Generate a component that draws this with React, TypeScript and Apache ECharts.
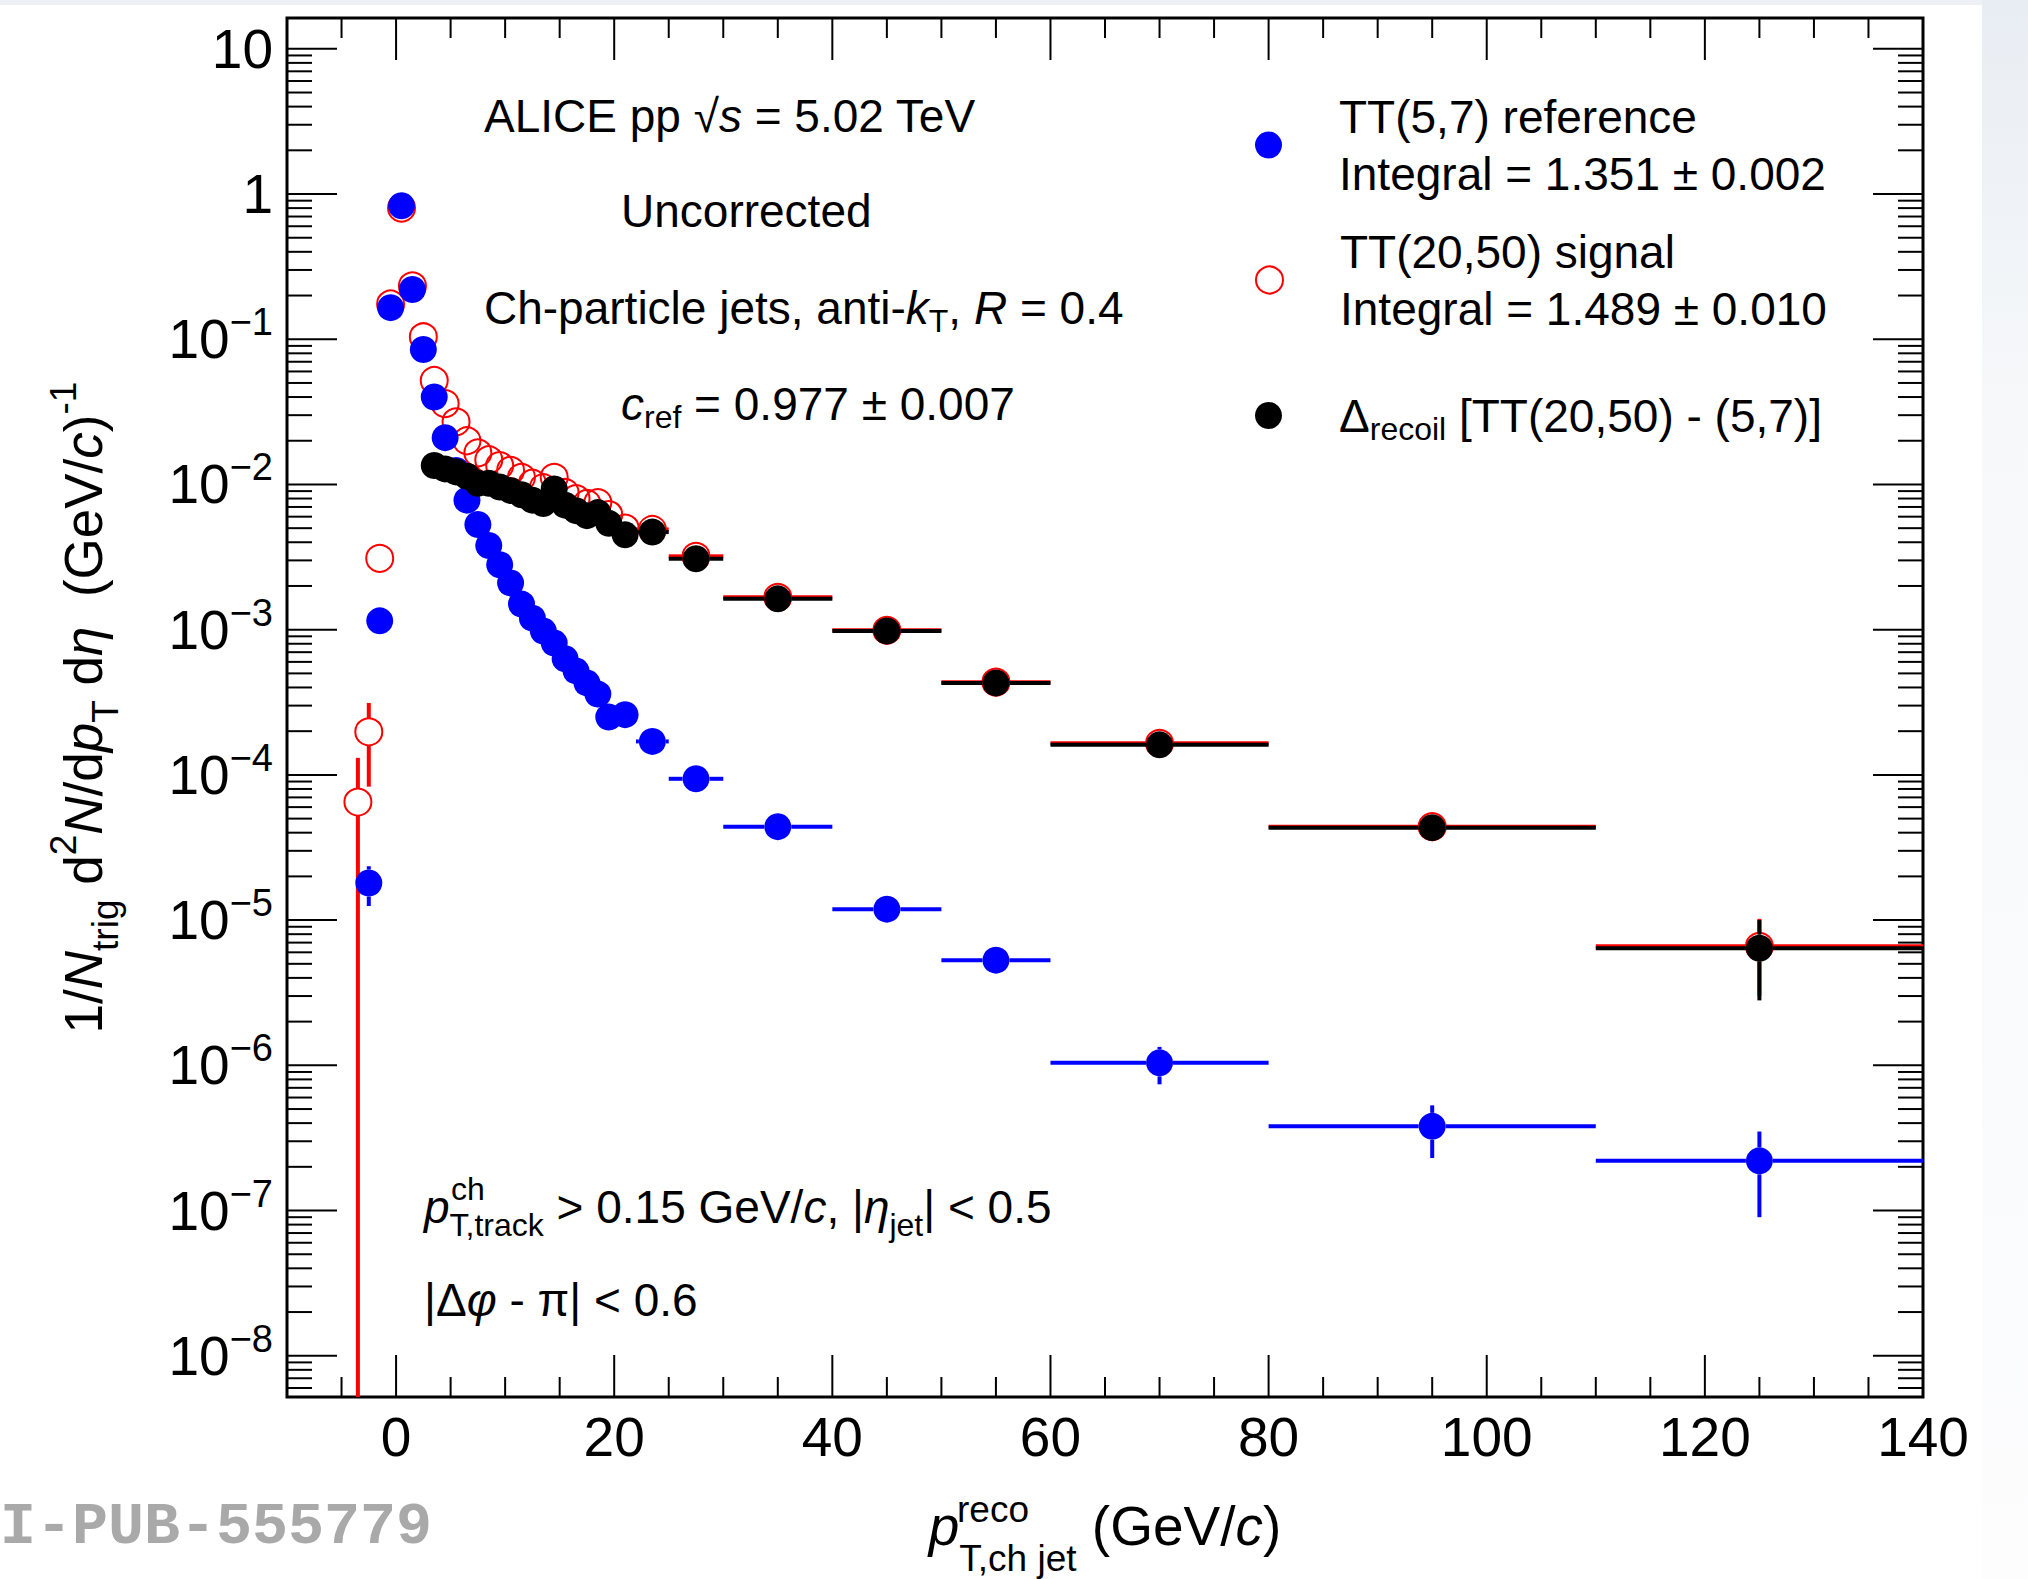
import React, { useEffect, useRef } from "react";
import * as echarts from "echarts";

// ---------------- data ----------------
const binCenters = [-3.5, -2.5, -1.5, -0.5, 0.5, 1.5, 2.5, 3.5, 4.5, 5.5, 6.5, 7.5, 8.5, 9.5, 10.5, 11.5, 12.5, 13.5, 14.5, 15.5, 16.5, 17.5, 18.5, 19.5, 21, 23.5, 27.5, 35, 45, 55, 70, 95, 125];
const binLow = [-4, -3, -2, -1, 0, 1, 2, 3, 4, 5, 6, 7, 8, 9, 10, 11, 12, 13, 14, 15, 16, 17, 18, 19, 20, 22, 25, 30, 40, 50, 60, 80, 110];
const binHigh = [-3, -2, -1, 0, 1, 2, 3, 4, 5, 6, 7, 8, 9, 10, 11, 12, 13, 14, 15, 16, 17, 18, 19, 20, 22, 25, 30, 40, 50, 60, 80, 110, 140];

// TT(5,7) reference
const refValues = [null, 1.8e-5, 1.15e-3, 0.165, 0.83, 0.22, 0.085, 0.040, 0.021, 0.0125, 0.0078, 0.0053, 0.0038, 0.0028, 0.0021, 0.0015, 0.0012, 0.00098, 0.00081, 0.00063, 0.00052, 0.00043, 0.00036, 0.00025, 0.00026, 0.00017, 9.4e-5, 4.4e-5, 1.19e-5, 5.3e-6, 1.04e-6, 3.8e-7, 2.2e-7];
const refErrors = [0, 5.5e-6, 0, 0, 0, 0, 0, 0, 0, 0, 0, 0, 0, 0, 0, 0, 0, 0, 0, 0, 0, 0, 0, 0, 0, 0, 0, 0, 6e-7, 4e-7, 3.0e-7, 1.5e-7, 1.3e-7];

// TT(20,50) signal
const sigValues = [6.5e-5, 1.98e-4, 3.1e-3, 0.175, 0.80, 0.233, 0.104, 0.052, 0.036, 0.027, 0.020, 0.0165, 0.0148, 0.0135, 0.0125, 0.0112, 0.0102, 0.0095, 0.0112, 0.0088, 0.0080, 0.0074, 0.0075, 0.0062, 0.0050, 0.0049, 0.0032, 0.00167, 0.00099, 4.35e-4, 1.65e-4, 4.4e-5, 6.6e-6];
const sigErrors = [6.6e-5, 1.15e-4, 0, 0, 0, 0, 0, 0, 0, 0, 0, 0, 0, 0, 0, 0, 0, 0, 0, 0, 0, 0, 0, 0, 0, 0, 0, 0, 0, 0, 0, 2.5e-6, 3.6e-6];

// Delta recoil
const recoilValues = [null, null, null, null, null, null, null, 0.0135, 0.0128, 0.0122, 0.0114, 0.0102, 0.0102, 0.0096, 0.0091, 0.0085, 0.0078, 0.0074, 0.0093, 0.0072, 0.0066, 0.0061, 0.0064, 0.0054, 0.0045, 0.0047, 0.00308, 0.00163, 0.00098, 4.3e-4, 1.61e-4, 4.33e-5, 6.4e-6];
const recoilErrors = [0, 0, 0, 0, 0, 0, 0, 0, 0, 0, 0, 0, 0, 0, 0, 0, 0, 0, 0, 0, 0, 0, 0, 0, 0, 0, 0, 0, 0, 0, 0, 2.6e-6, 3.6e-6];

const xTickLabels = [0, 20, 40, 60, 80, 100, 120, 140];
const yMajorTicks = [1e-8, 1e-7, 1e-6, 1e-5, 1e-4, 1e-3, 1e-2, 1e-1, 1, 10];

const seriesNames = ["TT(5,7) reference", "TT(20,50) signal", "Δrecoil [TT(20,50) - (5,7)]"];
const legendTexts = [
  "TT(5,7) reference\nIntegral = 1.351 ± 0.002",
  "TT(20,50) signal\nIntegral = 1.489 ± 0.010",
  "{n|Δ}{sub|recoil}{n| [TT(20,50) - (5,7)]}",
];

// ---------------- layout constants ----------------
const X_MIN = -10;
const X_MAX = 140;
const Y_MIN = 5.2e-9;
const Y_MAX = 16.3;
const MARKER = 27;
const FONT = '"Liberation Sans", Arial, Helvetica, sans-serif';
const BLUE = "#0000ff";
const RED = "#ff0000";
const BLACK = "#000000";

function richSet(base: number, small: number, subShift: number, supShift: number) {
  return {
    n: { fontFamily: FONT, fontSize: base, color: "#000" },
    i: { fontFamily: FONT, fontSize: base, fontStyle: "italic", color: "#000" },
    sub: { fontFamily: FONT, fontSize: small, color: "#000", padding: [subShift * 2, 0, 0, 0] },
    sub2: { fontFamily: FONT, fontSize: small, color: "#000", padding: [subShift * 2 + 10, 0, 0, 0] },
    sup: { fontFamily: FONT, fontSize: small, color: "#000", padding: [0, 0, supShift * 2, 0] },
  };
}

const annRich = richSet(46, 32, 13, 15);

function points(values: (number | null)[]) {
  const out: number[][] = [];
  binCenters.forEach((x, i) => {
    const v = values[i];
    if (v != null) out.push([x, v]);
  });
  return out;
}

function bars(values: (number | null)[], errors: number[]) {
  const out: number[][] = [];
  binCenters.forEach((x, i) => {
    const v = values[i];
    if (v == null) return;
    const e = errors[i] || 0;
    out.push([x, v, binLow[i], binHigh[i], Math.max(v - e, Y_MIN), v + e]);
  });
  return out;
}

// error bars drawn only outside the marker, as ROOT does
function errRender(color: string) {
  return (params: any, api: any) => {
    const x = api.value(0);
    const y = api.value(1);
    const xlo = api.value(2);
    const xhi = api.value(3);
    const ylo = api.value(4);
    const yhi = api.value(5);
    const c = api.coord([x, y]);
    const l = api.coord([xlo, y]);
    const r = api.coord([xhi, y]);
    const b = api.coord([x, ylo]);
    const t = api.coord([x, yhi]);
    const g = MARKER / 2;
    const style = { stroke: color, lineWidth: 4 };
    const children: any[] = [];
    if (c[0] - l[0] > g) children.push({ type: "line", shape: { x1: l[0], y1: c[1], x2: c[0] - g, y2: c[1] }, style });
    if (r[0] - c[0] > g) children.push({ type: "line", shape: { x1: c[0] + g, y1: c[1], x2: r[0], y2: c[1] }, style });
    if (b[1] - c[1] > g) children.push({ type: "line", shape: { x1: c[0], y1: c[1] + g, x2: c[0], y2: b[1] }, style });
    if (c[1] - t[1] > g) children.push({ type: "line", shape: { x1: c[0], y1: t[1], x2: c[0], y2: c[1] - g }, style });
    return { type: "group", children };
  };
}

function buildYTicks() {
  const data: number[][] = [];
  yMajorTicks.forEach((v) => data.push([X_MIN, v, 50]));
  for (let e = -9; e <= 1; e++) {
    for (let k = 2; k <= 9; k++) {
      const v = k * Math.pow(10, e);
      if (v > Y_MIN && v < Y_MAX) data.push([X_MIN, v, 25]);
    }
  }
  return data;
}

function buildXTicks() {
  const data: number[][] = [];
  xTickLabels.forEach((v) => data.push([v, Y_MIN, 42]));
  for (let v = -5; v < 140; v += 5) {
    if (v % 20 !== 0) data.push([v, Y_MIN, 20]);
  }
  return data;
}

function textEl(x: number, y: number, text: string, rich: any, size = 46, lineHeight = 60) {
  return {
    type: "text",
    x,
    y,
    silent: true,
    z: 50,
    style: {
      text,
      rich,
      fontFamily: FONT,
      fontSize: size,
      fill: "#000",
      align: "left",
      verticalAlign: "middle",
      lineHeight,
    },
  };
}

function yLabel(v: number) {
  const e = Math.log10(v);
  const r = Math.round(e);
  if (Math.abs(e - r) > 1e-6) return "";
  if (r === 1) return "10";
  if (r === 0) return "1";
  return "{b|10}{e|\u2212" + String(-r) + "}";
}

const App: React.FC = () => {
  const ref = useRef<HTMLDivElement>(null);

  useEffect(() => {
    if (!ref.current) return;
    const chart = echarts.init(ref.current, null, { renderer: "svg", width: 2028, height: 1579 });

    const legendCommon = {
      orient: "vertical",
      left: 1255,
      itemWidth: 27,
      itemHeight: 27,
      padding: 0,
      selectedMode: false,
      textStyle: {
        fontFamily: FONT,
        fontSize: 46,
        color: "#000",
        lineHeight: 57,
        padding: [0, 0, 0, 52],
        rich: richSet(46, 32, 13, 15),
      },
    };

    const option: any = {
      animation: false,
      backgroundColor: "#ffffff",
      grid: {
        left: 287,
        top: 18,
        width: 1636,
        height: 1379,
        show: true,
        borderColor: "#000",
        borderWidth: 3,
        backgroundColor: "transparent",
        containLabel: false,
        outerBoundsMode: "none",
      },
      legend: [
        {
          ...legendCommon,
          top: 88,
          data: [{ name: seriesNames[0], icon: "circle", itemStyle: { color: BLUE } }],
          formatter: () => legendTexts[0],
        },
        {
          ...legendCommon,
          top: 223,
          data: [
            {
              name: seriesNames[1],
              icon: "circle",
              itemStyle: { color: "rgba(255,0,0,0)", borderColor: RED, borderWidth: 2 },
            },
          ],
          formatter: () => legendTexts[1],
        },
        {
          ...legendCommon,
          top: 387,
          data: [{ name: seriesNames[2], icon: "circle", itemStyle: { color: BLACK } }],
          formatter: () => legendTexts[2],
        },
      ],
      xAxis: {
        type: "value",
        min: X_MIN,
        max: X_MAX,
        interval: 10,
        axisLine: { show: false },
        axisTick: { show: false },
        splitLine: { show: false },
        axisLabel: {
          show: true,
          fontFamily: FONT,
          fontSize: 55,
          color: "#000",
          margin: 12,
          formatter: (v: number) => (xTickLabels.indexOf(v) >= 0 ? String(v) : ""),
        },
        name: "{i|p}{sub|T,ch jet}{n| (GeV/}{i|c}{n|)}",
        nameLocation: "middle",
        nameGap: 96,
        nameTextStyle: {
          fontFamily: FONT,
          fontSize: 55,
          color: "#000",
          lineHeight: 66,
          rich: richSet(55, 37, 32, 17),
        },
      },
      yAxis: {
        type: "log",
        logBase: 10,
        min: Y_MIN,
        max: Y_MAX,
        splitNumber: 10,
        axisLine: { show: false },
        axisTick: { show: false },
        minorTick: { show: false },
        splitLine: { show: false },
        axisLabel: {
          fontFamily: FONT,
          fontSize: 55,
          color: "#000",
          margin: 14,
          formatter: yLabel,
          rich: {
            b: { fontFamily: FONT, fontSize: 55, color: "#000" },
            e: { fontFamily: FONT, fontSize: 38, color: "#000", padding: [0, 0, 34, 0] },
          },
        },
        name: "{n|1/}{i|N}{sub|trig}{n| d}{sup|2}{i|N}{n|/d}{i|p}{sub|T}{n| d}{i|η}{n|  (GeV/}{i|c}{n|)}{sup|-1}",
        nameLocation: "middle",
        nameRotate: 90,
        nameGap: 172,
        nameTextStyle: {
          fontFamily: FONT,
          fontSize: 53,
          color: "#000",
          lineHeight: 64,
          rich: richSet(53, 37, 22, 20),
        },
      },
      series: [
        {
          name: "signal errors",
          type: "custom",
          renderItem: errRender(RED),
          data: bars(sigValues, sigErrors),
          encode: { x: 0, y: 1 },
          silent: true,
          z: 2,
        },
        {
          name: seriesNames[1],
          type: "scatter",
          data: points(sigValues),
          symbol: "circle",
          symbolSize: MARKER,
          itemStyle: { color: "rgba(255,0,0,0)", borderColor: RED, borderWidth: 2, opacity: 1 },
          z: 2,
        },
        {
          name: "reference errors",
          type: "custom",
          renderItem: errRender(BLUE),
          data: bars(refValues, refErrors),
          encode: { x: 0, y: 1 },
          silent: true,
          z: 3,
        },
        {
          name: seriesNames[0],
          type: "scatter",
          data: points(refValues),
          symbol: "circle",
          symbolSize: MARKER,
          itemStyle: { color: BLUE, opacity: 1 },
          z: 3,
        },
        {
          name: "recoil errors",
          type: "custom",
          renderItem: errRender(BLACK),
          data: bars(recoilValues, recoilErrors),
          encode: { x: 0, y: 1 },
          silent: true,
          z: 4,
        },
        {
          name: seriesNames[2],
          type: "scatter",
          data: points(recoilValues),
          symbol: "circle",
          symbolSize: MARKER,
          itemStyle: { color: BLACK, opacity: 1 },
          z: 4,
        },
        {
          name: "y ticks",
          type: "custom",
          silent: true,
          z: 5,
          data: buildYTicks(),
          encode: { x: 0, y: 1 },
          renderItem: (params: any, api: any) => {
            const v = api.value(1);
            const len = api.value(2);
            const l = api.coord([X_MIN, v]);
            const r = api.coord([X_MAX, v]);
            const style = { stroke: "#000", lineWidth: 2 };
            return {
              type: "group",
              children: [
                { type: "line", shape: { x1: l[0], y1: l[1], x2: l[0] + len, y2: l[1] }, style },
                { type: "line", shape: { x1: r[0] - len, y1: r[1], x2: r[0], y2: r[1] }, style },
              ],
            };
          },
        },
        {
          name: "x ticks",
          type: "custom",
          silent: true,
          z: 5,
          data: buildXTicks(),
          encode: { x: 0, y: 1 },
          renderItem: (params: any, api: any) => {
            const v = api.value(0);
            const len = api.value(2);
            const b = api.coord([v, Y_MIN]);
            const t = api.coord([v, Y_MAX]);
            const style = { stroke: "#000", lineWidth: 2 };
            return {
              type: "group",
              children: [
                { type: "line", shape: { x1: b[0], y1: b[1], x2: b[0], y2: b[1] - len }, style },
                { type: "line", shape: { x1: t[0], y1: t[1], x2: t[0], y2: t[1] + len }, style },
              ],
            };
          },
        },
      ],
      graphic: [
        { type: "rect", silent: true, z: 0, shape: { x: 0, y: 0, width: 2028, height: 5 }, style: { fill: "#edf1f6" } },
        {
          type: "rect",
          silent: true,
          z: 0,
          shape: { x: 1982, y: 0, width: 46, height: 1579 },
          style: {
            fill: new echarts.graphic.LinearGradient(0, 0, 0, 1, [
              { offset: 0, color: "#e8edf3" },
              { offset: 0.25, color: "#f6f8fa" },
              { offset: 1, color: "#fdfdfe" },
            ]),
          },
        },
        textEl(484, 116, "ALICE pp √{i|s} = 5.02 TeV", annRich),
        textEl(621, 211, "Uncorrected", annRich),
        textEl(484, 308, "Ch-particle jets, anti-{i|k}{sub|T}, {i|R} = 0.4", annRich),
        textEl(621, 404, "{i|c}{sub|ref} = 0.977 ± 0.007", annRich),
        textEl(424, 1207, "{i|p}{sub2|T,track}{n| > 0.15 GeV/}{i|c}{n|, |}{i|η}{sub2|jet}{n|| < 0.5}", annRich),
        textEl(451, 1189, "ch", annRich, 32, 40),
        textEl(424, 1300, "|Δ{i|φ} - π| < 0.6", annRich),
        textEl(957, 1509, "reco", annRich, 37, 44),
        {
          type: "text",
          x: 0,
          y: 1527,
          silent: true,
          style: {
            text: "I-PUB-555779",
            fontFamily: '"Liberation Mono", "DejaVu Sans Mono", monospace',
            fontWeight: "bold",
            fontSize: 60,
            fill: "#a9a9a9",
            align: "left",
            verticalAlign: "middle",
          },
        },
      ],
    };

    chart.setOption(option);
    return () => {
      chart.dispose();
    };
  }, []);

  return (
    <div
      ref={ref}
      style={{ position: "fixed", left: 0, top: 0, width: 2028, height: 1579, background: "#fff" }}
    />
  );
};

export default App;
